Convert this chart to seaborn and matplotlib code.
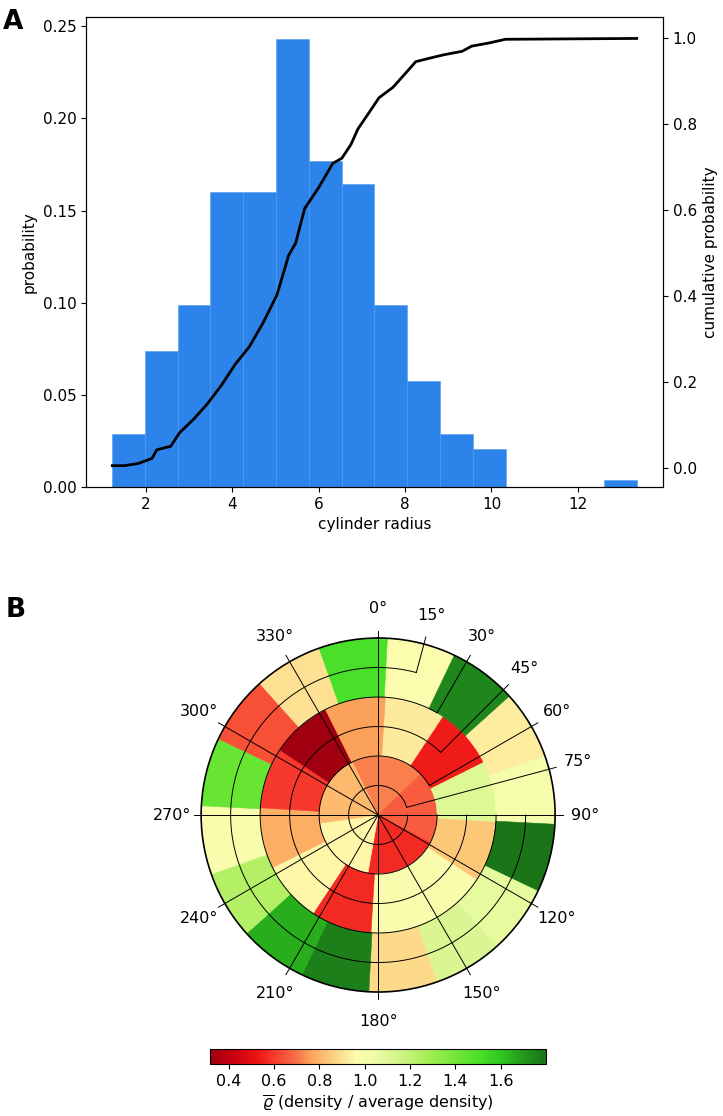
import numpy as np
import pandas as pd
import seaborn as sns
import matplotlib.pyplot as plt
from matplotlib.colors import LinearSegmentedColormap, Normalize
from matplotlib.cm import ScalarMappable

# ---- panel A data: radius histogram (density) + cumulative curve
bin_edges = [1.23, 1.99, 2.75, 3.50, 4.26, 5.02, 5.78, 6.54, 7.29,
             8.05, 8.81, 9.57, 10.33, 11.08, 11.84, 12.60, 13.36]
bin_density = [0.0287, 0.0739, 0.0988, 0.1603, 0.1603, 0.2428, 0.1770, 0.1646,
               0.0988, 0.0576, 0.0287, 0.0204, 0.0, 0.0, 0.0, 0.0037]
cdf_x = [1.23, 1.51, 1.83, 2.15, 2.26, 2.58, 2.79, 3.11, 3.43, 3.76, 4.08, 4.40,
         4.72, 5.04, 5.31, 5.47, 5.68, 6.00, 6.33, 6.54, 6.75, 6.91, 7.18, 7.40,
         7.72, 8.04, 8.25, 8.57, 8.90, 9.32, 9.54, 9.97, 10.32, 13.36]
cdf_y = [0.005, 0.005, 0.010, 0.022, 0.042, 0.050, 0.082, 0.113, 0.149, 0.193,
         0.242, 0.282, 0.338, 0.403, 0.495, 0.523, 0.604, 0.652, 0.709, 0.721,
         0.753, 0.789, 0.829, 0.862, 0.886, 0.922, 0.946, 0.954, 0.962, 0.970,
         0.982, 0.990, 0.998, 1.0]

# ---- panel B data: relative density per ring sector (clockwise from north)
inner_vals = [0.72, 0.66, 0.57, 0.95, 0.81]            # r 0-2, 5 sectors
middle_vals = [0.92, 0.54, 1.10, 0.84, 0.99, 0.99,      # r 2-4, 12 sectors
               0.57, 0.95, 0.79, 0.60, 0.316, 0.76]
outer_vals = [0.98, 1.75, 0.93, 1.01, 1.80, 1.07, 1.12, 0.88,   # r 4-6, 16 sectors
              1.77, 1.65, 1.24, 1.00, 1.43, 0.64, 0.90, 1.50]
ring_start = [334, 3.5, 3]       # first sector edge (deg) per ring
theta_labels = [0, 15, 30, 45, 60, 75, 90, 120, 150, 180, 210, 240, 270, 300, 330]
cbar_ticks = [0.4, 0.6, 0.8, 1.0, 1.2, 1.4, 1.6]

hist_df = pd.DataFrame({"radius": [(a + b) / 2 for a, b in zip(bin_edges[:-1], bin_edges[1:])],
                        "probability": bin_density})
cdf_df = pd.DataFrame({"radius": cdf_x, "cum": cdf_y})

plt.rcParams["font.size"] = 11
fig = plt.figure(figsize=(7.23, 11.16), dpi=100)

# ================= A
ax = fig.add_axes([0.119, 0.5636, 0.798, 0.4211])
sns.histplot(data=hist_df, x="radius", weights="probability", bins=bin_edges,
             color="#2c84ea", alpha=1, edgecolor="#4f98ee", linewidth=0.4, ax=ax)
ax.set_xlabel("cylinder radius")
ax.set_ylabel("probability")
ax2 = ax.twinx()
sns.lineplot(data=cdf_df, x="radius", y="cum", color="black", linewidth=2, ax=ax2)
ax2.set_ylabel("cumulative probability")
fig.text(0.004, 0.992, "A", fontsize=19, fontweight="bold", va="top")

# ================= B
cmap = LinearSegmentedColormap.from_list("rho", list(zip(
    [0, 0.068, 0.14, 0.197, 0.257, 0.297, 0.366, 0.436, 0.486, 0.565, 0.645,
     0.724, 0.804, 0.864, 0.923, 1.0],
    ["#a00010", "#c80010", "#ec1414", "#f84030", "#f87048", "#fca058", "#fdd080",
     "#fefcb0", "#f0fca8", "#d0f488", "#a8ee58", "#78e838", "#48e028", "#30c820",
     "#24a01c", "#1a7418"])))
all_vals = inner_vals + middle_vals + outer_vals
norm = Normalize(vmin=min(all_vals), vmax=max(all_vals))

pax = fig.add_axes([0.278, 0.1111, 0.490, 0.3172], projection="polar")
pax.set_theta_zero_location("N")
pax.set_theta_direction(-1)
for i, vals in enumerate([inner_vals, middle_vals, outer_vals]):
    n = len(vals)
    w = 2 * np.pi / n
    th = np.deg2rad(ring_start[i]) + w * (np.arange(n) + 0.5)
    cols = cmap(norm(vals))
    pax.bar(th, 2, width=w, bottom=2 * i, color=cols, edgecolor=cols,
            linewidth=0.4, align="center", zorder=1)

pax.set_ylim(0, 6)
pax.set_xticks([])
pax.set_yticks([])
pax.grid(False)
pax.spines["polar"].set_linewidth(1.2)

lk = dict(color="black", linewidth=0.7, zorder=3)
# circles: in the first quadrant each one stops where its guide turns outward
for r in [1, 2, 3, 4, 5]:
    stop = 360 + 15 * (6 - r)
    t = np.deg2rad(np.linspace(90, stop, 300))
    pax.plot(t, np.full_like(t, r), **lk)
for a in theta_labels:
    r0 = 6 - a / 15 if 0 < a < 90 else 0
    pax.plot([np.deg2rad(a)] * 2, [r0, 6.25], clip_on=False, **lk)
    pax.text(np.deg2rad(a), 7.0, f"{a}°", ha="center", va="center", fontsize=11.5)

fig.text(0.008, 0.465, "B", fontsize=19, fontweight="bold", va="top")

cax = fig.add_axes([0.290, 0.0466, 0.465, 0.0134])
cb = fig.colorbar(ScalarMappable(norm=norm, cmap=cmap), cax=cax, orientation="horizontal",
                  ticks=cbar_ticks)
cb.ax.tick_params(labelsize=11.5)
cb.set_label(r"$\overline{\varrho}$ (density / average density)", fontsize=11.5)

fig.savefig("out.png", dpi=100)
